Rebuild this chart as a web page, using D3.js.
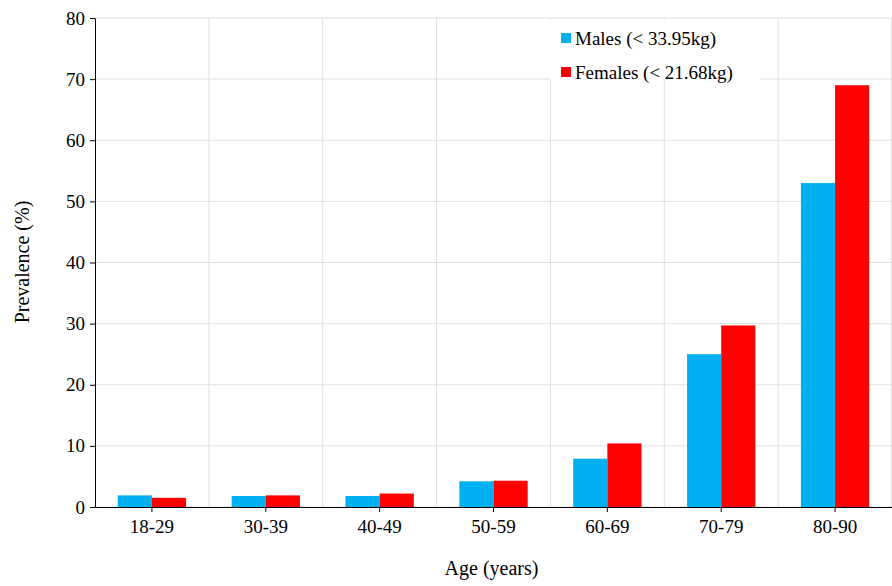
<!DOCTYPE html>
<html><head><meta charset="utf-8">
<script src="https://cdn.jsdelivr.net/npm/d3@7"></script>
<style>body{margin:0;background:#fff}text{font-family:"Liberation Serif","Times New Roman",serif}</style>
</head><body><svg id="c" width="892" height="586"></svg>
<script>
const categories=["18-29","30-39","40-49","50-59","60-69","70-79","80-90"];
const males=[1.9,1.8,1.8,4.2,7.9,25,53];
const females=[1.5,1.9,2.2,4.3,10.4,29.7,69];
const series=["Males (< 33.95kg)","Females (< 21.68kg)"];
const colors=["#00b0f0","#ff0000"];
const yTicks=[0,10,20,30,40,50,60,70,80];
const svg=d3.select("#c");
const L=95,R=892,T=18,B=507;
const x=d3.scaleBand().domain(categories).range([L,R]);
const y=d3.scaleLinear().domain([0,80]).range([B,T]);
const g=svg.append("g");
yTicks.forEach(t=>g.append("line").attr("x1",L).attr("x2",R).attr("y1",y(t)).attr("y2",y(t)).attr("stroke","#e0e0e0"));
categories.forEach((c,i)=>{if(i>0)g.append("line").attr("x1",x(c)).attr("x2",x(c)).attr("y1",T).attr("y2",B).attr("stroke","#e0e0e0");});
g.append("line").attr("x1",R-0.5).attr("x2",R-0.5).attr("y1",T).attr("y2",B).attr("stroke","#e0e0e0");
const bw=x.bandwidth()*0.3;
[males,females].forEach((arr,s)=>{
  g.selectAll(null).data(categories).enter().append("rect")
   .attr("x",(d)=>x(d)+x.bandwidth()/2-bw+s*bw).attr("width",bw)
   .attr("y",(d,i)=>y(arr[i])).attr("height",(d,i)=>B-y(arr[i])).attr("fill",colors[s]);
});
const ya=svg.append("g").attr("transform",`translate(${L},0)`).call(d3.axisLeft(y).tickValues(yTicks).tickSize(5).tickSizeOuter(0));
const xa=svg.append("g").attr("transform",`translate(0,${B})`).call(d3.axisBottom(x).tickSize(5).tickSizeOuter(0));
[ya,xa].forEach(a=>{a.selectAll("text").attr("font-size",19).attr("fill","#000").style("font-family","Liberation Serif");a.selectAll("line,path").attr("stroke","#000");});
ya.selectAll("text").attr("x",-10);
xa.selectAll("text").attr("y",13);
svg.append("text").attr("x",(L+R)/2-2).attr("y",575).attr("text-anchor","middle").attr("font-size",20).text("Age (years)");
svg.append("text").attr("transform","translate(29,262) rotate(-90)").attr("text-anchor","middle").attr("font-size",20).text("Prevalence (%)");
const lg=svg.append("g");
lg.append("rect").attr("x",550).attr("y",20).attr("width",210).attr("height",60).attr("fill","#fff");
series.forEach((s,i)=>{
  lg.append("rect").attr("x",561).attr("y",33+i*34).attr("width",10).attr("height",10).attr("fill",colors[i]);
  lg.append("text").attr("x",575).attr("y",45+i*34).attr("font-size",19).text(s);
});
</script></body></html>
